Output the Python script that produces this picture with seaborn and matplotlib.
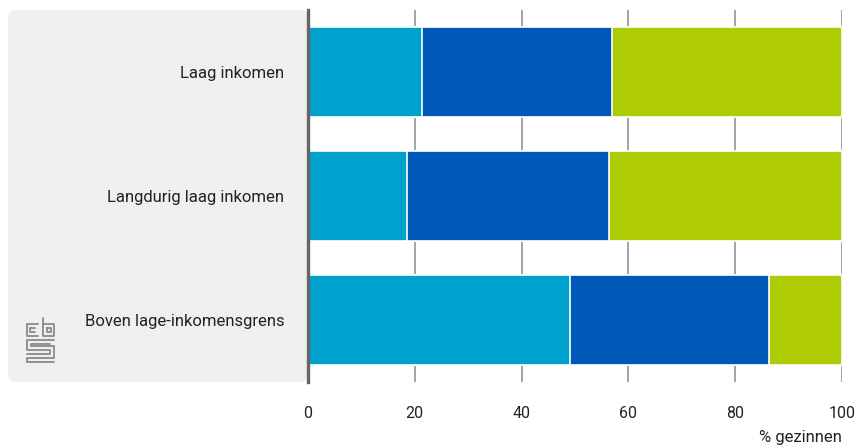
import numpy as np
import pandas as pd

import matplotlib.pyplot as plt
import seaborn as sns
from matplotlib.patches import FancyBboxPatch
from matplotlib.lines import Line2D

sns.set_style('white')
plt.rcParams['font.family'] = ['Roboto', 'DejaVu Sans']

categories = ['Laag inkomen', 'Langdurig laag inkomen', 'Boven lage-inkomensgrens']
segments = ['deel 1', 'deel 2', 'deel 3']
seg1 = [21.3, 18.5, 49.1]
seg2 = [35.6, 37.8, 37.2]
seg3 = [43.1, 43.7, 13.7]
colors = ['#00a1cd', '#0058b8', '#afcb05']

data = pd.DataFrame({'categorie': categories, 'deel 1': seg1, 'deel 2': seg2, 'deel 3': seg3})
cum = data[segments].cumsum(axis=1)

fig = plt.figure(figsize=(8.59, 4.48), dpi=100)
ax = fig.add_axes([308 / 859, 1 - 382 / 448, 534 / 859, 372 / 448])

# grey label panel behind the category names
panel = FancyBboxPatch((8, 448 - 382), 300, 372, boxstyle='round,pad=0,rounding_size=8',
                       transform=None, facecolor='#efefef', edgecolor='none', zorder=-10)
fig.patches.append(panel)
ax.patch.set_alpha(0)

for seg, col in reversed(list(zip(segments, colors))):
    sns.barplot(x=cum[seg], y=data['categorie'], orient='h', color=col, width=0.73,
                saturation=1, edgecolor='white', linewidth=1.2, ax=ax, zorder=3)

ax.set_xlim(0, 100)
ax.set_ylim(2.5, -0.5)
ax.set_xticks([0, 20, 40, 60, 80, 100])
ax.xaxis.grid(True, color='#8a8a8a', linewidth=1.1, zorder=0)
ax.set_axisbelow(True)
for s in ['top', 'right', 'bottom']:
    ax.spines[s].set_visible(False)
ax.spines['left'].set_color('#666666')
ax.spines['left'].set_linewidth(2.4)
ax.spines['left'].set_zorder(5)
ax.tick_params(axis='x', length=3, color='#8a8a8a', pad=14, labelsize=11.5, labelcolor='#222222')
ax.tick_params(axis='y', length=0, pad=17, labelsize=12, labelcolor='#222222')
ax.set_xlabel('')
ax.set_ylabel('')

fig.text(842 / 859, 1 - 437 / 448, '% gezinnen', ha='right', va='center', fontsize=12, color='#222222')

# simple CBS logo drawn with lines (pixel coords)
def pl(xs, ys):
    fig.add_artist(Line2D([x / 859 for x in xs], [1 - y / 448 for y in ys],
                          transform=fig.transFigure, color='#8a8a8a', linewidth=1.3))

pl([38, 27, 27, 38], [324, 324, 336, 336])
pl([35, 30, 30, 35], [328, 328, 332, 332])
pl([43, 43, 54, 54, 43], [318, 336, 336, 324, 324])
pl([47, 51, 51, 47, 47], [328, 328, 332, 332, 328])
pl([54, 27, 27, 50, 50, 27], [340, 340, 350, 350, 354, 354])
pl([50, 31, 31, 54, 54, 27, 27], [344, 344, 346, 346, 358, 358, 362])
pl([27, 54], [362, 362])

fig.savefig('out.png', dpi=100)
